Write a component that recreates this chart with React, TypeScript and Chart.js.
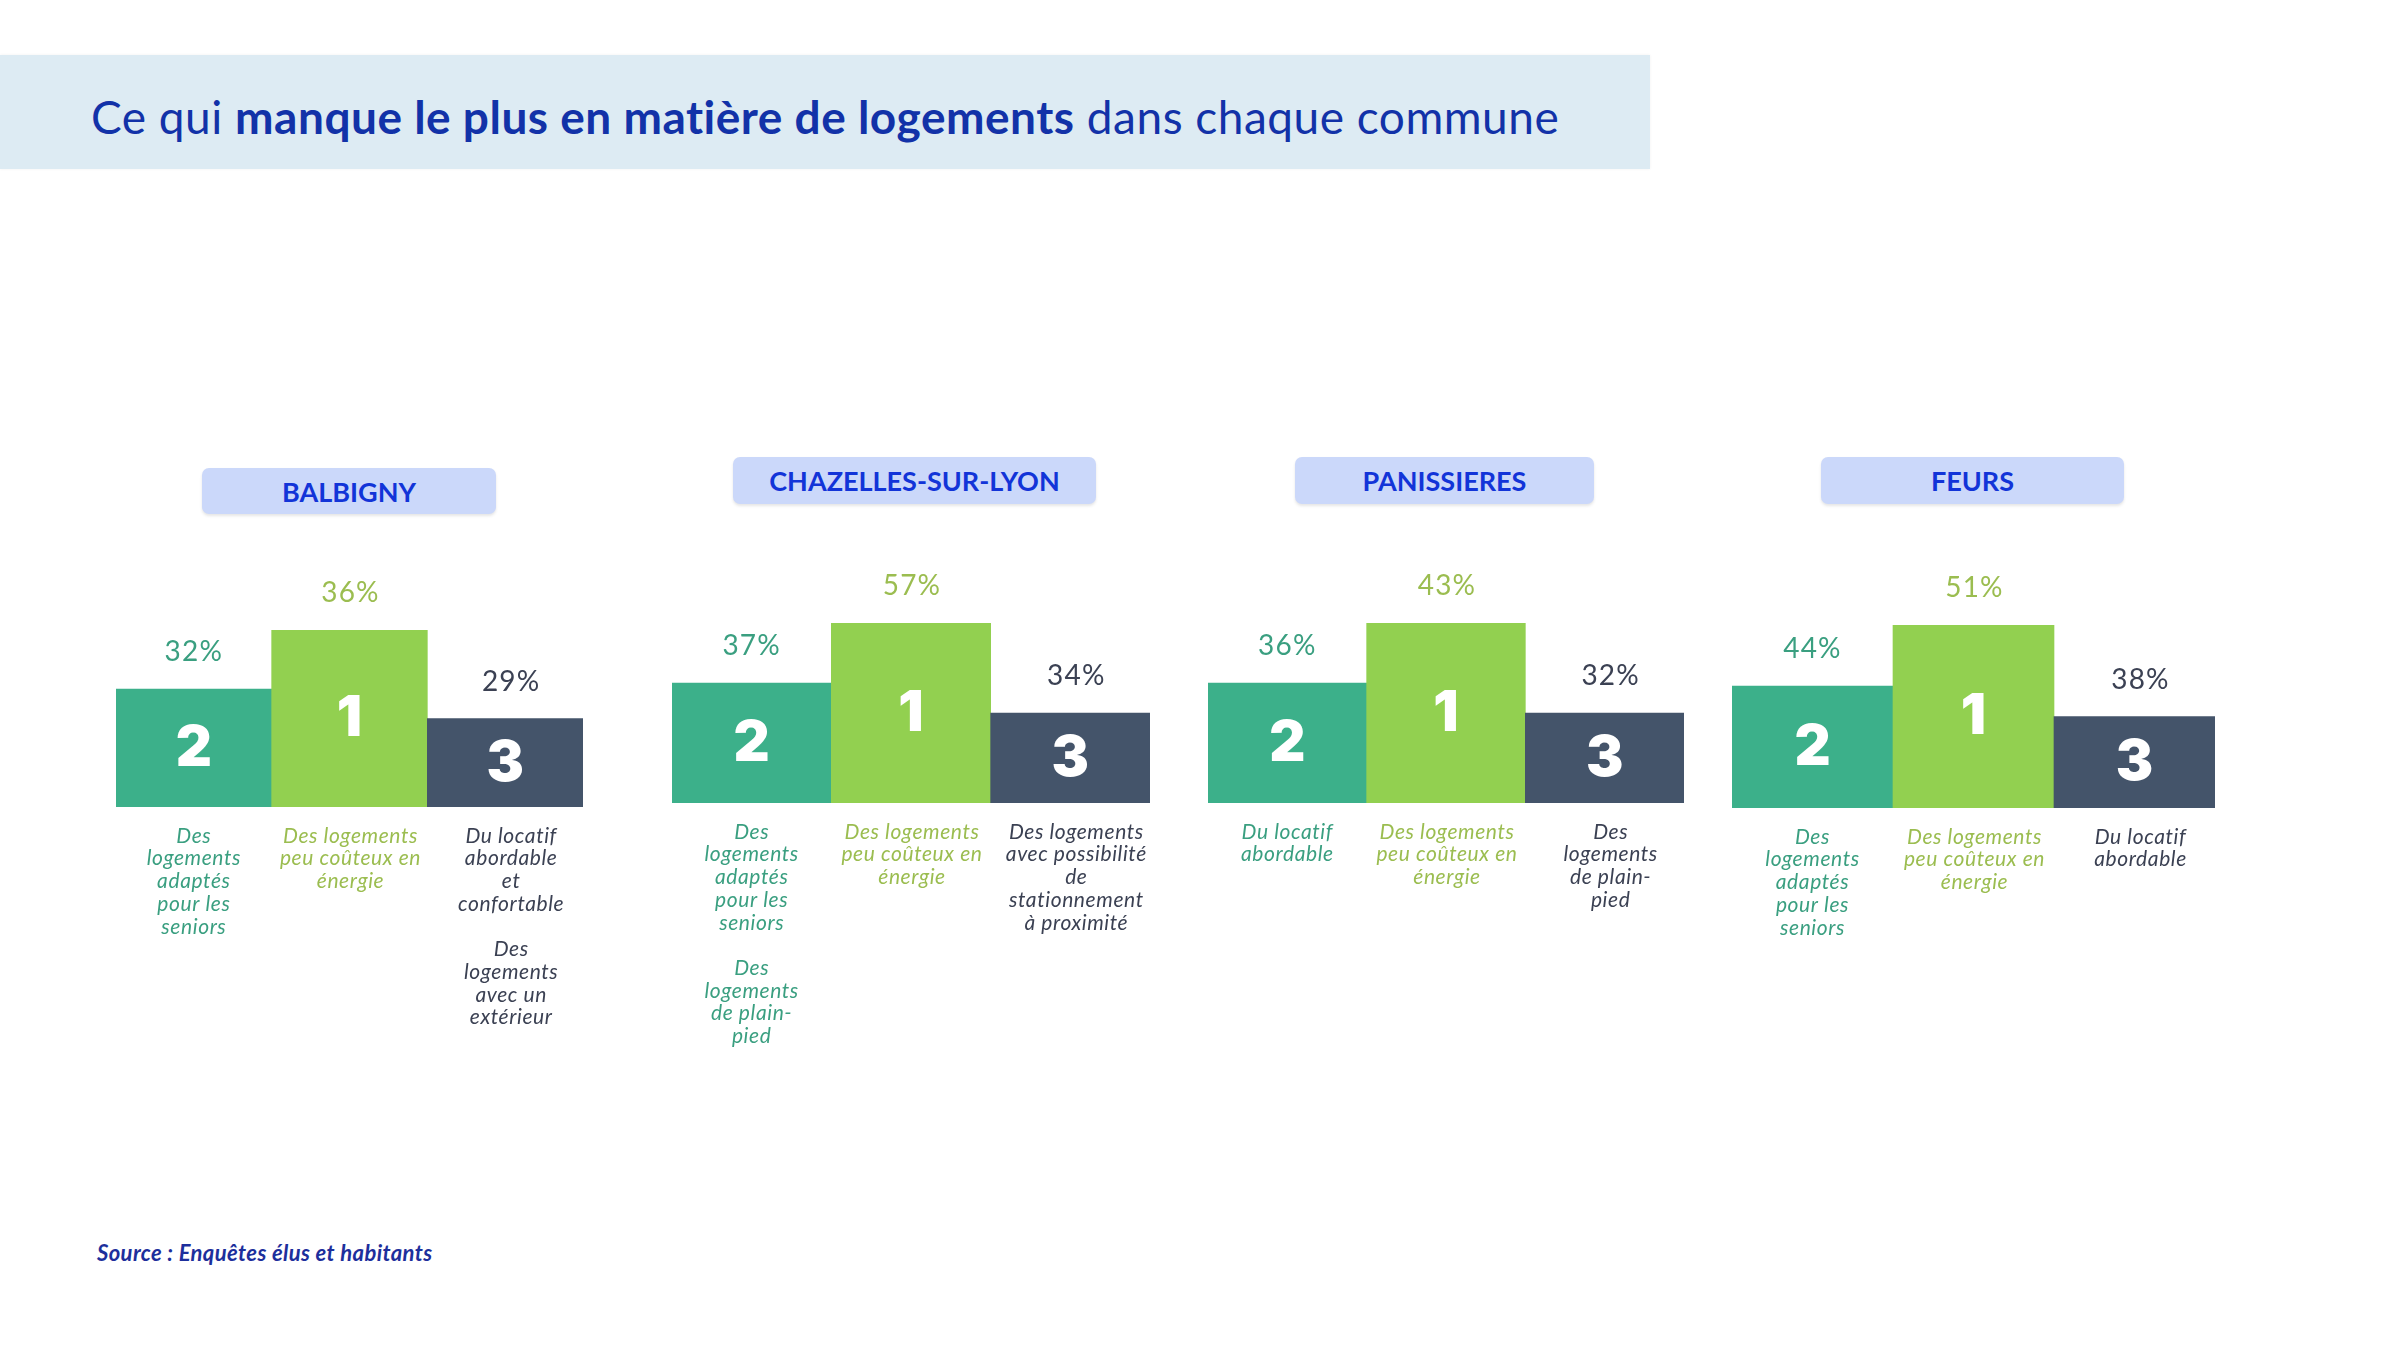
import React, { useEffect, useRef } from "react";
import { Chart, registerables } from "chart.js";

Chart.register(...registerables);

// ---------- Data ----------
const communes = ["BALBIGNY", "CHAZELLES-SUR-LYON", "PANISSIERES", "FEURS"];
const rankLabels = ["2", "1", "3"];
const podiumLevels = [4, 6, 3];

const balbignyValues = [32, 36, 29];
const chazellesValues = [37, 57, 34];
const panissieresValues = [36, 43, 32];
const feursValues = [44, 51, 38];

const balbignyLabels = [
  ["Des", "logements", "adaptés", "pour les", "seniors"],
  ["Des logements", "peu coûteux en", "énergie"],
  ["Du locatif", "abordable", "et", "confortable", "", "Des", "logements", "avec un", "extérieur"],
];
const chazellesLabels = [
  ["Des", "logements", "adaptés", "pour les", "seniors", "", "Des", "logements", "de plain-", "pied"],
  ["Des logements", "peu coûteux en", "énergie"],
  ["Des logements", "avec possibilité", "de", "stationnement", "à proximité"],
];
const panissieresLabels = [
  ["Du locatif", "abordable"],
  ["Des logements", "peu coûteux en", "énergie"],
  ["Des", "logements", "de plain-", "pied"],
];
const feursLabels = [
  ["Des", "logements", "adaptés", "pour les", "seniors"],
  ["Des logements", "peu coûteux en", "énergie"],
  ["Du locatif", "abordable"],
];

const valuesByCommune = [balbignyValues, chazellesValues, panissieresValues, feursValues];
const labelsByCommune = [balbignyLabels, chazellesLabels, panissieresLabels, feursLabels];

// ---------- Styles ----------
const barColors = ["#3cb08a", "#92d050", "#44546a"];
const textColors = ["#3a9f80", "#9bbd50", "#3b4153"];
const textShift = [0, 1, 6];

const panelLayout = [
  { left: 116, right: 583, top6: 630, bottom: 807, boxL: 202, boxR: 496, boxT: 468, boxB: 514 },
  { left: 672, right: 1150, top6: 623, bottom: 803, boxL: 733, boxR: 1096, boxT: 457, boxB: 504 },
  { left: 1208, right: 1684, top6: 623, bottom: 803, boxL: 1295, boxR: 1594, boxT: 457, boxB: 504 },
  { left: 1732, right: 2215, top6: 625, bottom: 808, boxL: 1821, boxR: 2124, boxT: 457, boxB: 504 },
];

const CANVAS_TOP = 540;
const CANVAS_BOTTOM = 1140;
const SIDE_PAD = 40;

function Podium({ index }: { index: number }) {
  const ref = useRef<HTMLCanvasElement | null>(null);
  const lay = panelLayout[index];
  const width = lay.right - lay.left + SIDE_PAD * 2;
  const height = CANVAS_BOTTOM - CANVAS_TOP;

  useEffect(() => {
    if (!ref.current) return;
    const values = valuesByCommune[index];
    const lines = labelsByCommune[index];
    const plugin = {
      id: "podiumText",
      afterDatasetsDraw(chart: any) {
        const ctx = chart.ctx;
        const meta = chart.getDatasetMeta(0);
        meta.data.forEach((bar: any, i: number) => {
          const { x, y, base } = bar.getProps(["x", "y", "base"], true);
          const tx = x + textShift[i];
          ctx.save();
          ctx.textAlign = "center";
          ctx.textBaseline = "middle";
          ctx.fillStyle = textColors[i];
          ctx.font = "400 28px Lato";
          (ctx as any).letterSpacing = "1.2px";
          ctx.fillText(values[i] + "%", tx, y - 37);
          (ctx as any).letterSpacing = "0px";
          ctx.fillStyle = "#ffffff";
          ctx.font = "900 56px Inter";
          ctx.fillText(String(chart.data.labels[i]), x, (y + base) / 2 + 1);
          ctx.fillStyle = textColors[i];
          ctx.font = "italic 400 21px Lato";
          (ctx as any).letterSpacing = "0.6px";
          lines[i].forEach((ln: string, k: number) => {
            if (ln) ctx.fillText(ln, tx, base + 29 + k * 22.7);
          });
          ctx.restore();
        });
      },
    };
    const chart = new Chart(ref.current, {
      type: "bar",
      data: {
        labels: rankLabels,
        datasets: [
          {
            data: podiumLevels,
            backgroundColor: barColors,
            borderWidth: 0,
            barPercentage: 1,
            categoryPercentage: 1,
          },
        ],
      },
      options: {
        animation: false,
        responsive: false,
        devicePixelRatio: 1,
        layout: {
          padding: {
            left: SIDE_PAD,
            right: SIDE_PAD,
            top: lay.top6 - CANVAS_TOP,
            bottom: CANVAS_BOTTOM - lay.bottom,
          },
        },
        scales: {
          x: { display: false },
          y: { display: false, min: 0, max: 6 },
        },
        plugins: {
          legend: { display: false },
          tooltip: { enabled: false },
        },
      },
      plugins: [plugin],
    });
    return () => chart.destroy();
  }, [index]);

  return (
    <>
      <div
        style={{
          position: "absolute",
          left: lay.boxL,
          top: lay.boxT,
          width: lay.boxR - lay.boxL,
          height: lay.boxB - lay.boxT,
          background: "#cbd8fa",
          borderRadius: 7,
          boxShadow: "0 2px 3px rgba(0,0,0,0.10)",
          display: "flex",
          alignItems: "center",
          justifyContent: "center",
          fontFamily: "Lato, sans-serif",
          fontWeight: 700,
          fontSize: 27,
          color: "#1234d8",
        }}
      >
        {communes[index]}
      </div>
      <canvas
        ref={ref}
        width={width}
        height={height}
        style={{ position: "absolute", left: lay.left - SIDE_PAD, top: CANVAS_TOP, width, height }}
      />
    </>
  );
}

export default function App() {
  return (
    <div
      style={{
        position: "absolute",
        left: 0,
        top: 0,
        width: 2400,
        height: 1350,
        background: "#ffffff",
        overflow: "hidden",
      }}
    >
      <div
        style={{
          position: "absolute",
          left: 0,
          top: 55,
          width: 1650,
          height: 114,
          background: "#ddebf3",
          boxShadow: "0 0 3px rgba(0,0,0,0.06)",
        }}
      />
      <div
        style={{
          position: "absolute",
          left: 91,
          top: 94,
          fontFamily: "Lato, sans-serif",
          fontSize: 46,
          lineHeight: "46px",
          letterSpacing: "0.5px",
          color: "#1232a8",
          whiteSpace: "nowrap",
        }}
      >
        Ce qui <b>manque le plus en matière de logements</b> dans chaque commune
      </div>
      {communes.map((_, i) => (
        <Podium key={i} index={i} />
      ))}
      <div
        style={{
          position: "absolute",
          left: 97,
          top: 1240,
          fontFamily: "Lato, sans-serif",
          fontStyle: "italic",
          fontWeight: 700,
          fontSize: 22,
          lineHeight: "26px",
          letterSpacing: "0.4px",
          color: "#1d2f9c",
          whiteSpace: "nowrap",
        }}
      >
        Source : Enquêtes élus et habitants
      </div>
    </div>
  );
}
